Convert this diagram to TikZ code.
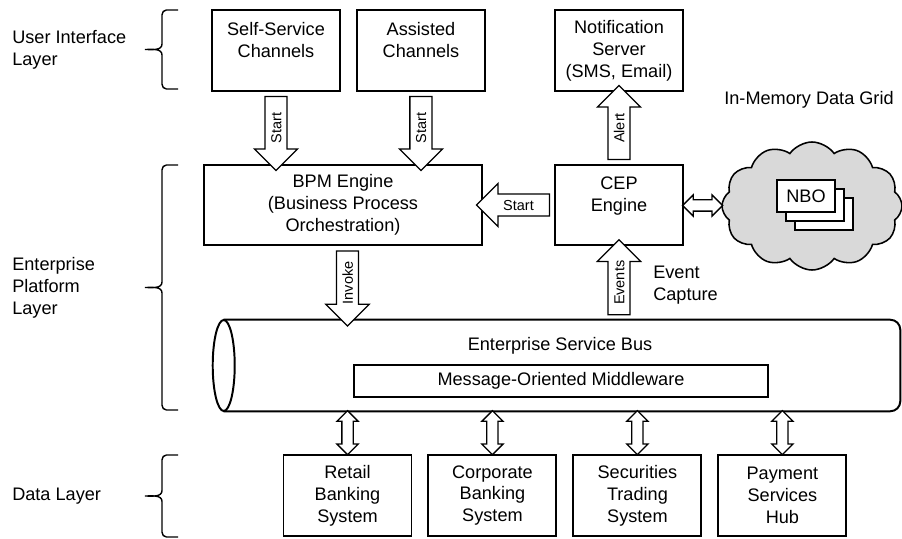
\documentclass[tikz,border=0pt]{standalone}
\usepackage{fontspec}
\setmainfont{Liberation Sans}
\usetikzlibrary{shapes.arrows,shapes.symbols,positioning,calc}

% curly bracket in front of each layer: top, middle, bottom
\newcommand{\layerbrace}[3]{%
  \draw[brc] (4.45,#1) -- (4.16,#1) to[out=180,in=90] (4.05,#1-0.12)
    -- (4.05,#2+0.14) to[out=-90,in=0] (3.625,#2)
    to[out=0,in=90] (4.05,#2-0.14) -- (4.05,#3+0.12)
    to[out=-90,in=180] (4.16,#3) -- (4.45,#3);}

\begin{document}
\begin{tikzpicture}[
    font=\fontsize{12.9}{15.6}\selectfont,
    node distance=0.375cm,
    box/.style={rectangle, draw, line width=1.4pt, fill=white, align=center, minimum width=3.2cm, minimum height=2.025cm, inner sep=2pt},
    layer/.style={align=left, anchor=west, inner sep=0pt},
    brc/.style={line width=1pt},
    fat/.style={single arrow, draw, line width=0.9pt, fill=white, minimum width=0pt, single arrow head extend=0.2625cm, single arrow tip angle=90, inner xsep=1pt, inner ysep=3.7pt, text height=7.5pt, text depth=0pt, font=\fontsize{10.3}{12}\selectfont},
    fatdown/.style={fat, rotate=90, shape border rotate=180},
    fatup/.style={fat, rotate=90},
    fatleft/.style={fat, shape border rotate=180},
    dbl/.style={double arrow, draw, line width=0.9pt, fill=white, minimum width=0pt, double arrow head extend=0.125cm, double arrow tip angle=90, inner xsep=0pt, inner ysep=0.125cm, minimum height=1.1cm}
]
    \useasboundingbox (0,0) rectangle (22.55,13.45);

    % layers
    \node [layer] (uil) at (0.3,12.2) {User Interface\\Layer};
    \node [layer] (epl) at (0.3,6.25) {Enterprise\\Platform\\Layer};
    \node [layer] (dl) at (0.3,1.05) {Data Layer};
    \layerbrace{13.2}{12.2125}{11.225}
    \layerbrace{9.325}{6.2625}{3.2}
    \layerbrace{2.075}{1.05}{0.025}

    % user interface
    \node [box] (sself) at (6.9,12.1875) {Self-Service\\Channels\\\mbox{}};
    \node [box, right=of sself] (assist) {Assisted\\Channels\\\mbox{}};
    \node [box] (notif) at (15.475,12.1875) {Notification\\Server\\(SMS, Email)};

    % platform
    \node [box, minimum width=6.95cm, minimum height=2cm] (bpm) at (8.575,8.325) {BPM Engine\\(Business Process\\Orchestration)};
    \node [box, minimum height=2cm] (cep) at (15.475,8.325) {CEP\\Engine\\\mbox{}};

    \node [cloud, draw, line width=1.1pt, fill=gray!30, cloud puffs=12, cloud puff arc=110, cloud ignores aspect, minimum width=4.5cm, minimum height=3.2cm] (grid) at (20.3,8.3) {};
    \node (gridlbl) at (20.225,10.95) {In-Memory Data Grid};
    \foreach \k in {2,1}
        \node [draw, line width=1.4pt, fill=white, minimum width=1.45cm, minimum height=0.8cm] (nbo\k) at ($(20.15,8.55)+(\k*0.225,-\k*0.225)$) {};
    \node [draw, line width=1.4pt, fill=white, minimum width=1.45cm, minimum height=0.8cm] (nbo) at (20.15,8.55) {NBO};

    % service bus
    \node [minimum width=16.9cm, minimum height=2.275cm, inner sep=0pt] (bus) at (14.05,4.3125) {};
    \draw [line width=1.4pt, rounded corners=0.25cm] (bus.north west) -- (bus.north east) -- (bus.south east) -- (bus.south west);
    \draw [line width=1.4pt] (bus.west) ellipse [x radius=0.275cm, y radius=1.1375cm];
    \node (esb) at (14,4.8) {Enterprise Service Bus};
    \node [box, minimum width=10.35cm, minimum height=0.8cm] (mom) at (14.025,3.925) {Message-Oriented Middleware};

    % back ends
    \node [box] (retail) at (8.6875,1.0625) {Retail\\Banking\\System};
    \node [box, right=of retail] (corp) {Corporate\\Banking\\System};
    \node [box, right=of corp] (sec) {Securities\\Trading\\System};
    \node [box, right=of sec] (pay) {Payment\\Services\\Hub};

    % flows
    \path (sself.south) -- (sself.south |- bpm.north) node [midway, fatdown, minimum height=1.85cm] (start1) {Start};
    \path (assist.south) -- (assist.south |- bpm.north) node [midway, fatdown, minimum height=1.85cm] (start2) {Start};
    \path (cep.west) -- (bpm.east) node [midway, fatleft, minimum height=1.825cm] (start3) {Start};
    \path (cep.north) -- (notif.south) node [midway, fatup, minimum height=1.85cm] (alert) {Alert};
    \path (bpm.south -| retail) -- (bus.north -| retail) node [midway, fatdown, minimum height=1.875cm] (invoke) {Invoke};
    \path (bus.north -| cep) -- (cep.south) node [midway, fatup, minimum height=1.875cm] (events) {Events};
    \node [layer] (evcap) at (16.325,6.3125) {Event\\Capture};
    \path (cep.east) -- (grid.west) node [midway, dbl, minimum height=1cm] (cepgrid) {};
    \foreach \sys in {retail,corp,sec,pay}
        \path (bus.south -| \sys.north) -- (\sys.north) node [midway, dbl, rotate=90] (link-\sys) {};
\end{tikzpicture}
\end{document}
